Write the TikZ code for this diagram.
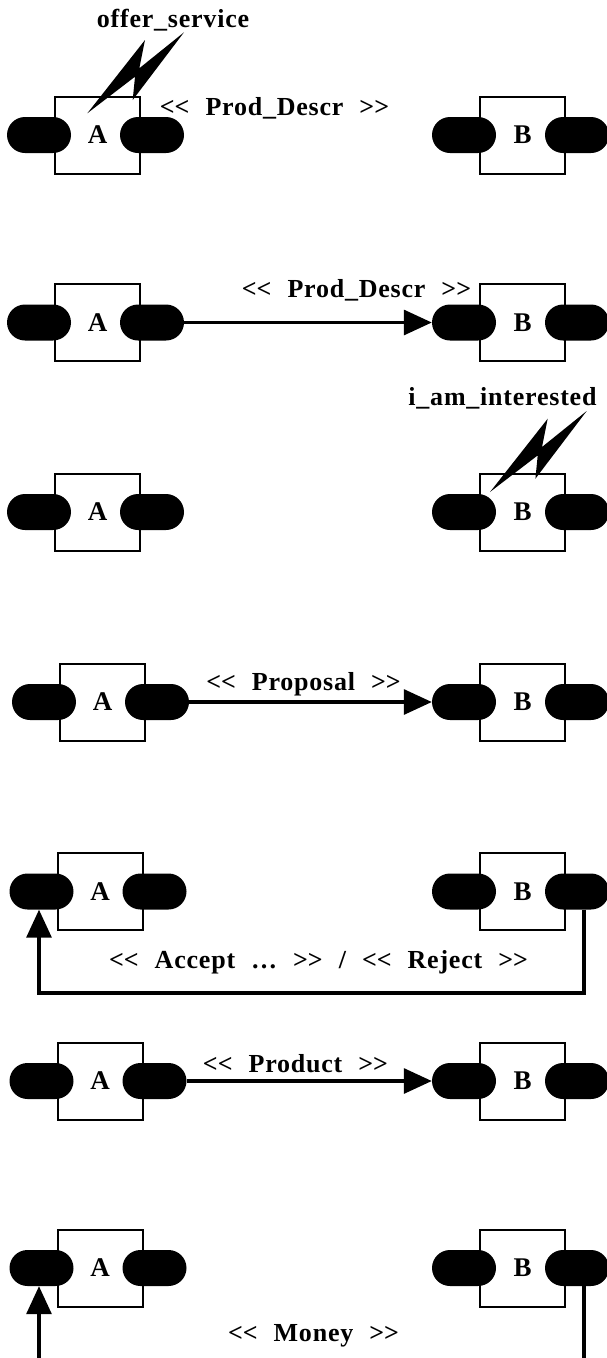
\documentclass[tikz,border=0pt]{standalone}
\usepackage{fontspec}
\setmainfont{Liberation Serif}
\newfontfamily\msgfont[LetterSpace=3]{Liberation Serif}
\usetikzlibrary{arrows.meta}

% message brackets, kept apart so they are not turned into guillemets
\newcommand{\opn}{<\kern0pt<}
\newcommand{\cls}{>\kern0pt>}
\newcommand{\gp}{\hspace{16pt}}

% one pair of agents A and B with their two ports each
\newcommand{\agentpair}[3]{%
  \node[agent] (a#1) at (#2,#3) {A};
  \node[agent] (b#1) at (522.5,#3) {B};
  \node[port] (a#1l) at (#2-58.5,#3) {};
  \node[port] (a#1r) at (#2+54.5,#3) {};
  \node[port] (b#1l) at (464,#3) {};
  \node[port] (b#1r) at (577,#3) {};
}

\begin{document}
\begin{tikzpicture}[
  x=1pt, y=-1pt,
  agent/.style={draw, line width=2pt, fill=white, minimum width=85pt,
    minimum height=77pt, inner sep=0pt, font=\fontsize{27}{30}\selectfont\bfseries},
  port/.style={fill=black, rounded corners=18pt, minimum width=64pt,
    minimum height=36pt, inner sep=0pt},
  msg/.style={font=\msgfont\fontsize{26}{30}\selectfont\bfseries, inner sep=0pt, anchor=base},
  flow/.style={line width=3.2pt, -{Triangle[length=28pt,width=25pt]}},
  wire/.style={line width=3.2pt},
  bolt/.pic={\fill[black] (0,0) -- (57.7,-73.3) -- (52,-45) -- (96.7,-81)
    -- (45.4,-13.3) -- (47.7,-36.6) -- cycle;}
]
\useasboundingbox (0,0) rectangle (607,1358);

% 1: A offers its service
\agentpair{1}{97.5}{135}
\pic at (87.3,113.3) {bolt};
\node[msg] (t1) at (173,27) {offer\_service};
\node[msg] (m1) at (274.5,115) {\opn\gp Prod\_Descr\gp\cls};

% 2: product description sent to B
\agentpair{2}{97.5}{322.5}
\node[msg] (m2) at (356.5,297) {\opn\gp Prod\_Descr\gp\cls};
\draw[flow] (a2r.east) -- (b2l.west);

% 3: B is interested
\agentpair{3}{97.5}{512}
\pic at (490,492) {bolt};
\node[msg] (t3) at (502.5,405) {i\_am\_interested};

% 4: proposal
\agentpair{4}{102.5}{702}
\node[msg] (m4) at (303.5,690) {\opn\gp Proposal\gp\cls};
\draw[flow] (a4r.east) -- (b4l.west);

% 5: accept or reject
\agentpair{5}{100}{891.5}
\node[msg] (m5) at (318.5,968) {\opn\gp Accept\gp …\gp\cls\gp /\gp\opn\gp Reject\gp\cls};
\coordinate (c5) at (39,993);
\draw[flow] ([xshift=7pt]b5r.south) |- (c5) -- ([xshift=-2.5pt]a5l.south);

% 6: product delivered
\agentpair{6}{100}{1081}
\node[msg] (m6) at (295.5,1072) {\opn\gp Product\gp\cls};
\draw[flow] (a6r.east) -- (b6l.west);

% 7: payment
\agentpair{7}{100}{1268}
\node[msg] (m7) at (313.5,1341) {\opn\gp Money\gp\cls};
\coordinate (e7a) at (39,1360);
\coordinate (e7b) at (584,1360);
\draw[flow] (e7a) -- ([xshift=-2.5pt]a7l.south);
\draw[wire] ([xshift=7pt]b7r.south) -- (e7b);
\end{tikzpicture}
\end{document}
